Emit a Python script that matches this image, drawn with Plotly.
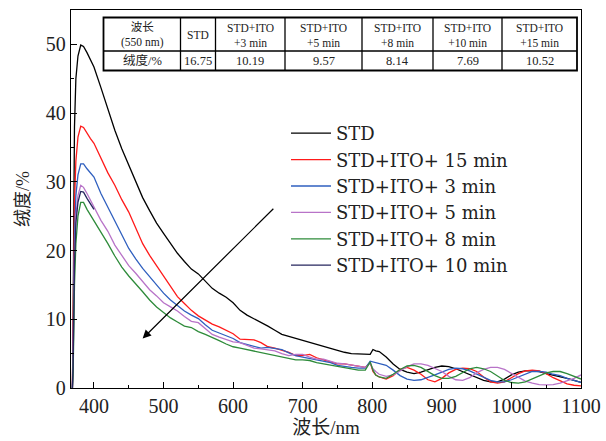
import plotly.graph_objects as go

# ---------------- data ----------------
wl = [369, 370, 371, 372, 374, 377, 381, 385, 390, 395,
      400, 410, 420, 430, 440, 450, 460, 470, 480, 490,
      500, 510, 520, 530, 540, 550, 560, 570, 580, 590,
      600, 610, 620, 630, 640, 650, 660, 670, 680, 690,
      700, 710, 720, 730, 740, 750, 760, 770, 780, 790,
      797, 801, 805, 810, 820, 830, 840, 850, 860, 870,
      880, 890, 900, 910, 920, 930, 940, 950, 960, 970,
      980, 990, 1000, 1010, 1020, 1030, 1040, 1050, 1060, 1070,
      1080, 1090, 1100]

std = [0, 8, 25, 38, 45, 48.3, 49.9, 49.7, 48.8, 47.8,
       46.7, 43.7, 40.5, 37.5, 34.8, 32.4, 29.9, 27.7, 25.8, 24.0,
       22.5, 21.0, 19.6, 18.4, 17.3, 16.6, 15.5, 14.5, 13.8, 13.2,
       12.4, 11.3, 10.6, 10.1, 9.6, 9.0, 8.4, 7.8, 7.5, 7.2,
       7.0, 6.7, 6.4, 6.1, 5.8, 5.4, 5.2, 5.0, 5.0, 5.0,
       4.9, 5.6, 5.4, 5.3, 4.5, 3.5, 2.7, 2.3, 2.1, 2.3,
       2.7, 3.0, 3.2, 3.1, 2.8, 2.4, 2.0, 1.6, 1.1, 0.9,
       0.9, 1.3, 1.9, 2.3, 2.5, 2.5, 2.4, 2.1, 1.9, 1.7,
       1.4, 1.1, 0.8]

ito_15 = [0, 6, 18, 27, 33, 36.5, 38.1, 37.9, 37.0, 36.3,
          35.6, 33.4, 31.3, 29.5, 27.4, 25.6, 23.3, 21.0, 19.3, 17.8,
          16.3, 14.7, 13.3, 12.3, 11.3, 10.5, 9.9, 9.3, 8.9, 8.4,
          7.9, 7.1, 7.0, 7.0, 6.6, 6.0, 5.8, 5.5, 5.2, 4.7,
          4.7, 4.9, 4.4, 4.1, 3.8, 3.5, 3.5, 3.3, 3.2, 3.0,
          3.7, 2.4, 1.9, 1.6, 1.3, 1.8, 2.7, 3.0, 2.6, 2.0,
          1.2, 0.9, 1.4, 2.2, 2.7, 2.9, 2.8, 2.4, 1.6, 0.9,
          0.7, 0.9, 1.5, 2.1, 2.5, 2.6, 2.5, 2.1, 1.5, 1.0,
          0.6, 0.4, 0.3]

ito_3 = [0, 4, 14, 22, 28, 31, 32.6, 32.6, 31.9, 31.3,
         30.7, 28.3, 26.3, 24.4, 22.2, 20.3, 18.8, 17.4, 16.2, 15.0,
         13.8, 12.8, 12.0, 11.2, 10.6, 10.1, 9.2, 8.4, 8.0, 7.6,
         7.2, 6.6, 6.3, 6.0, 5.8, 5.9, 5.8, 5.6, 5.1, 4.7,
         4.5, 4.3, 4.2, 4.0, 3.7, 3.3, 3.1, 3.0, 2.9, 2.9,
         3.9, 3.8, 3.7, 3.6, 3.3, 2.6, 1.8, 1.3, 1.1, 1.2,
         1.5, 1.9, 2.3, 2.7, 2.9, 2.8, 2.5, 2.0, 1.5, 1.1,
         0.9, 0.9, 1.2, 1.6, 2.1, 2.4, 2.4, 2.3, 2.0, 1.8,
         1.4, 1.1, 0.8]

ito_5 = [0, 3, 12, 19, 25, 28, 29.5, 29.2, 28.3, 27.3,
         26.4, 24.4, 22.8, 20.8, 19.3, 17.8, 16.7, 15.5, 14.3, 13.4,
         12.4, 11.8, 11.2, 10.4, 9.7, 9.5, 8.6, 7.8, 7.4, 7.0,
         6.7, 6.6, 6.2, 5.8, 5.7, 5.6, 5.4, 5.0, 4.7, 4.9,
         4.9, 4.5, 4.2, 4.2, 3.9, 3.6, 3.5, 3.3, 3.1, 3.0,
         3.6, 2.8, 2.4, 2.0, 1.7, 1.9, 2.5, 3.1, 3.5, 3.5,
         3.3, 2.9, 2.4, 1.7, 1.2, 1.1, 1.5, 2.2, 2.7, 3.0,
         3.0, 2.7, 2.1, 1.5, 1.0, 0.7, 0.5, 0.45, 0.5, 0.7,
         1.0, 1.4, 1.9]

ito_8 = [0, 2, 8, 15, 21, 25, 27.0, 27.0, 26.0, 25.2,
         24.4, 22.6, 21.0, 19.2, 17.6, 16.3, 15.2, 14.0, 12.8, 11.8,
         11.0, 10.2, 9.6, 9.0, 8.8, 8.2, 7.8, 7.4, 6.9, 6.4,
         6.0, 5.8, 5.6, 5.4, 5.2, 5.0, 4.8, 4.5, 4.3, 4.1,
         4.1, 4.0, 3.7, 3.5, 3.3, 3.1, 3.0, 2.8, 2.6, 2.6,
         3.8, 2.6, 1.9, 1.6, 1.4, 2.0, 2.7, 3.2, 3.3, 3.0,
         2.4, 1.8, 1.4, 1.4, 1.7, 2.3, 2.8, 3.0, 2.8, 2.4,
         1.7, 1.1, 0.8, 0.7, 0.9, 1.3, 1.8, 2.2, 2.4, 2.4,
         2.1, 1.7, 1.3]

# the 10 min curve is only visible near the peak in the reference
wl_10 = [369, 370, 371, 372, 374, 377, 381, 385, 390, 395, 400]
ito_10 = [0, 3, 11, 18, 24, 27, 28.6, 28.5, 27.6, 26.8, 26.0]

series_names = ["STD", "STD+ITO+ 15 min", "STD+ITO+ 3 min", "STD+ITO+ 5 min",
                "STD+ITO+ 8 min", "STD+ITO+ 10 min"]
series_colors = ["#000000", "#ff1a1a", "#2f5fbf", "#b873c8", "#2e8b3a", "#26265e"]

table_header = ["波长<br>(550 nm)", "STD", "STD+ITO<br>+3 min", "STD+ITO<br>+5 min",
                "STD+ITO<br>+8 min", "STD+ITO<br>+10 min", "STD+ITO<br>+15 min"]
table_values = ["绒度/%", "16.75", "10.19", "9.57", "8.14", "7.69", "10.52"]

x_ticks = [400, 500, 600, 700, 800, 900, 1000, 1100]
y_ticks = [0, 10, 20, 30, 40, 50]

# ---------------- figure ----------------
SERIF = "Liberation Serif, 'Noto Sans CJK SC', serif"
WIDE = "DejaVu Serif, 'Noto Sans CJK SC', serif"
TXT = "#222222"
W, H = 606, 441
L, R, T, B = 71, 25, 10, 53
pw, ph = W - L - R, H - T - B

def px2paper_x(px):
    return (px - L) / pw

def px2paper_y(py):
    return (H - B - py) / ph

fig = go.Figure()
ys = [std, ito_15, ito_3, ito_5, ito_8]
for name, col, y in zip(series_names[:5], series_colors[:5], ys):
    fig.add_trace(go.Scatter(x=wl, y=y, mode="lines", name=name,
                             line=dict(color=col, width=1.3)))
fig.add_trace(go.Scatter(x=wl_10, y=ito_10, mode="lines", name=series_names[5],
                         line=dict(color=series_colors[5], width=1.3)))

axis_common = dict(showline=True, linecolor="black", linewidth=1.3, mirror=True,
                   ticks="inside", tickcolor="black", tickwidth=1.1, ticklen=6,
                   showgrid=False, zeroline=False, automargin=False,
                   tickfont=dict(family=SERIF, size=20, color=TXT))

fig.update_xaxes(range=[367, 1100], tickvals=x_ticks,
                 minor=dict(ticks="inside", ticklen=3, tickcolor="black", dtick=50, tick0=350),
                 title=dict(text="波长/nm", font=dict(family=SERIF, size=19, color=TXT), standoff=3),
                 **axis_common)
fig.update_yaxes(range=[0, 55], tickvals=y_ticks,
                 minor=dict(ticks="inside", ticklen=3, tickcolor="black", dtick=5, tick0=0),
                 title=dict(text="绒度/%", font=dict(family=SERIF, size=18, color=TXT), standoff=11),
                 **axis_common)

# arrow
fig.add_annotation(x=470, y=7.2, ax=660, ay=26.3, xref="x", yref="y", axref="x", ayref="y",
                   showarrow=True, arrowhead=2, arrowsize=1.4, arrowwidth=1.2, arrowcolor="black", text="")

# table drawn with shapes
col_px = [103.5, 180.5, 215.5, 285, 362, 433, 502, 577]
row_px = [17.5, 51, 70.5]
x0, x1 = px2paper_x(col_px[0]), px2paper_x(col_px[-1])
y0, y1 = px2paper_y(row_px[0]), px2paper_y(row_px[-1])
fig.add_shape(type="rect", xref="paper", yref="paper", x0=x0, x1=x1, y0=y1, y1=y0,
              line=dict(color="black", width=1.8), fillcolor="white", layer="above")
fig.add_shape(type="line", xref="paper", yref="paper", x0=x0, x1=x1,
              y0=px2paper_y(row_px[1]), y1=px2paper_y(row_px[1]),
              line=dict(color="black", width=1.3))
for cx in col_px[1:-1]:
    fig.add_shape(type="line", xref="paper", yref="paper", x0=px2paper_x(cx), x1=px2paper_x(cx),
                  y0=y0, y1=y1, line=dict(color="black", width=1.3))
for i in range(7):
    cxp = px2paper_x((col_px[i] + col_px[i + 1]) / 2)
    fig.add_annotation(x=cxp, y=px2paper_y(35.5), xref="paper", yref="paper",
                       text=table_header[i], showarrow=False, xanchor="center", yanchor="middle",
                       align="center", borderpad=0,
                       font=dict(family=SERIF, size=11.5, color=TXT))
    fig.add_annotation(x=cxp, y=px2paper_y(61), xref="paper", yref="paper",
                       text=table_values[i], showarrow=False, xanchor="center", yanchor="middle",
                       borderpad=0,
                       font=dict(family=SERIF, size=12.5, color=TXT))

fig.update_layout(
    width=W, height=H, margin=dict(l=L, r=R, t=T, b=B, autoexpand=False),
    paper_bgcolor="white", plot_bgcolor="white",
    legend=dict(x=px2paper_x(286), y=px2paper_y(115), xanchor="left", yanchor="top",
                bgcolor="rgba(0,0,0,0)", font=dict(family=WIDE, size=18, color=TXT),
                itemwidth=40, tracegroupgap=0),
    showlegend=True,
)

fig.write_html("out.html", config={"displayModeBar": False},
               post_script="document.body.style.margin='0';document.body.style.overflow='hidden';")
